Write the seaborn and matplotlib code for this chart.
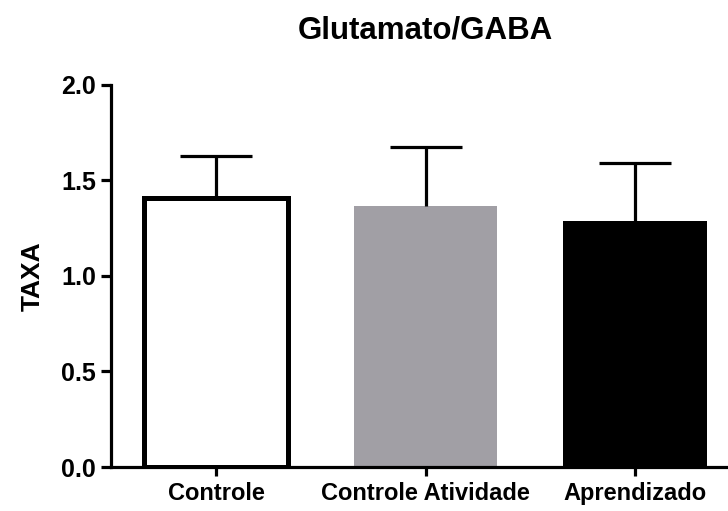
import matplotlib
matplotlib.use("Agg")
import matplotlib.pyplot as plt
import seaborn as sns
import pandas as pd

# Glutamate/GABA ratio per group (mean and upper SEM)
groups = ["Controle", "Controle Atividade", "Aprendizado"]
means = [1.407, 1.365, 1.287]
errors = [0.222, 0.307, 0.305]
bar_colors = ["#FFFFFF", "#A19FA5", "#000000"]
y_ticks = [0.0, 0.5, 1.0, 1.5, 2.0]

sns.set_style("ticks")
plt.rcParams["font.family"] = ["Liberation Sans", "DejaVu Sans"]
plt.rcParams["font.weight"] = "bold"
plt.rcParams["text.color"] = "black"
plt.rcParams["axes.labelcolor"] = "black"

fig = plt.figure(figsize=(7.28, 5.11), dpi=100)
left_px, right_px = 111.25, 739.75
ax = fig.add_axes([left_px / 728, 44 / 511, (right_px - left_px) / 728, (467 - 84.7) / 511])

df = pd.DataFrame({"grupo": groups, "taxa": means})
sns.barplot(data=df, x="grupo", y="taxa", hue="grupo", palette=bar_colors,
            legend=False, width=0.685, ax=ax, errorbar=None, saturation=1)

# outline only the white bar
for patch, col in zip(ax.patches, bar_colors):
    if col == "#FFFFFF":
        patch.set_edgecolor("black")
        patch.set_linewidth(3.6)
    else:
        patch.set_linewidth(0)

# upper error bars only
_, caplines, _ = ax.errorbar(range(len(groups)), means,
                             yerr=[[0] * len(groups), errors],
                             fmt="none", ecolor="black", elinewidth=2.3,
                             capsize=26, capthick=2.3, zorder=1)
caplines[0].set_visible(False)

ax.set_xlim(-0.5, 2.5)
ax.set_ylim(0, 2.0)
ax.set_yticks(y_ticks)
ax.set_yticklabels([f"{v:.1f}" for v in y_ticks])

for s in ["top", "right"]:
    ax.spines[s].set_visible(False)
for s in ["left", "bottom"]:
    ax.spines[s].set_linewidth(2.3)
    ax.spines[s].set_color("black")

ax.tick_params(axis="y", length=7, width=2.3, labelsize=18, pad=4, colors="black")
ax.tick_params(axis="x", length=6.5, width=2.3, labelsize=17, pad=4, colors="black")
for lab in ax.get_xticklabels() + ax.get_yticklabels():
    lab.set_fontweight("bold")

ax.set_xlabel("")
ax.set_ylabel("TAXA", fontsize=19, fontweight="bold", labelpad=12, color="black")
ax.set_title("Glutamato/GABA", fontsize=22.5, fontweight="bold", pad=33, color="black")

fig.savefig("out.png", dpi=100)
